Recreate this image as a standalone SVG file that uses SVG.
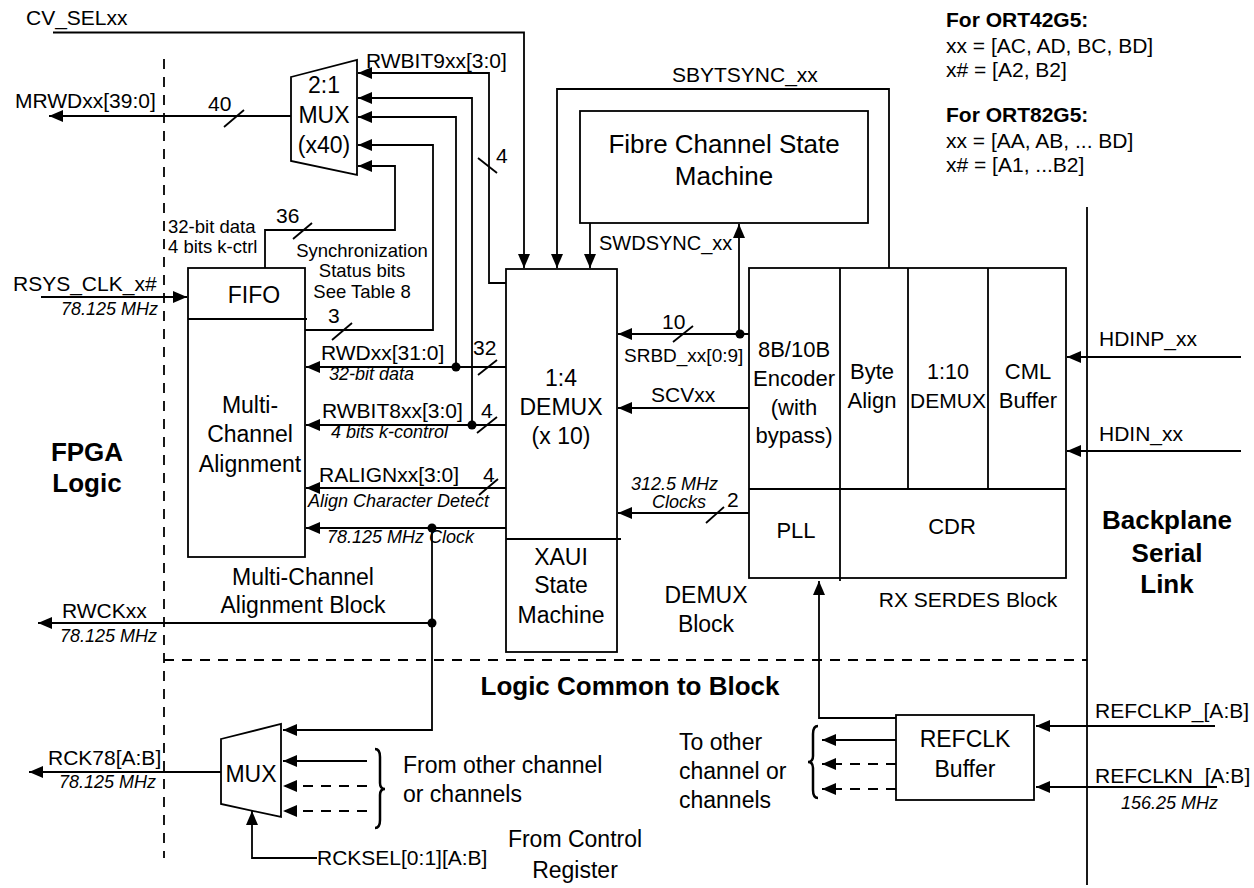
<svg xmlns="http://www.w3.org/2000/svg" width="1254" height="888" viewBox="0 0 1254 888">
<defs>
<style>
.ln{fill:none;stroke:#000;stroke-width:1.8}
.ar{marker-end:url(#ah)}
.box{fill:#fff;stroke:#000;stroke-width:1.8}
.dash{stroke-dasharray:10 8}
.t{font-family:"Liberation Sans",Arial,Helvetica,sans-serif;fill:#000;font-size:21px}
.i{font-style:italic;font-size:18px}
.sm{font-size:18.5px}
.m{font-size:23px}
.b{font-weight:bold;font-size:26px}
.bh{font-weight:bold}
.c{text-anchor:middle}
.e{text-anchor:end}
.dot{fill:#000}
</style>
<marker id="ah" markerUnits="userSpaceOnUse" markerWidth="14" markerHeight="12" viewBox="0 0 14 12" refX="14" refY="6" orient="auto">
<path d="M0,0 L14,6 L0,12 z" fill="#000" stroke="none"/>
</marker>
</defs>
<rect width="1254" height="888" fill="#fff"/>

<g id="boundaries">
<path class="ln dash" d="M164,59 V858"/>
<path class="ln dash" d="M164,660 H1087"/>
<path class="ln" d="M1087,207 V885"/>
</g>

<g id="connectors">
<path class="ln ar" d="M53,32.5 H524 V268"/>
<path class="ln ar" d="M889,268 V89 H557 V268"/>
<path class="ln ar" d="M590,223 V268"/>
<path class="ln ar" d="M739,334 V224"/>
<path class="ln ar" d="M749,334 H618"/>
<path class="ln ar" d="M749,408 H618"/>
<path class="ln ar" d="M749,513 H618"/>
<path class="ln ar" d="M1241,357 H1067"/>
<path class="ln ar" d="M1241,451 H1067"/>
<path class="ln ar" d="M896,718 H819 V581"/>
<path class="ln ar" d="M1215,726 H1036"/>
<path class="ln ar" d="M1217,787 H1036"/>
<path class="ln ar" d="M896,740 H822"/>
<path class="ln ar dash" d="M896,764 H822"/>
<path class="ln ar dash" d="M896,789 H822"/>
<path class="ln ar" d="M506,283 H489 V73 H358"/>
<path class="ln ar" d="M472,425 V98 H358"/>
<path class="ln ar" d="M456,367 V117 H358"/>
<path class="ln ar" d="M303,330 H433 V145 H358"/>
<path class="ln ar" d="M265,268 V230 H395 V166 H358"/>
<path class="ln ar" d="M506,367 H306"/>
<path class="ln ar" d="M506,425 H306"/>
<path class="ln ar" d="M506,488 H306"/>
<path class="ln ar" d="M506,528 H306"/>
<path class="ln ar" d="M432,528 V730 H283"/>
<path class="ln ar" d="M432,623 H38"/>
<path class="ln ar" d="M41,297 H187"/>
<path class="ln ar" d="M291,116 H49"/>
<path class="ln ar" d="M367,761 H283"/>
<path class="ln ar dash" d="M367,786 H283"/>
<path class="ln ar dash" d="M367,811 H283"/>
<path class="ln ar" d="M221,772 H29"/>
<path class="ln ar" d="M317,858 H252 V811"/>
<circle class="dot" cx="740" cy="334" r="4.5"/>
<circle class="dot" cx="456" cy="367" r="4.5"/>
<circle class="dot" cx="472" cy="425" r="4.5"/>
<circle class="dot" cx="432" cy="528" r="4.5"/>
<circle class="dot" cx="432" cy="623" r="4.5"/>
<g class="ln">
<path d="M224,127 L244,110"/>
<path d="M478,158 L497,173"/>
<path d="M293,239 L312,223"/>
<path d="M332,340 L352,323"/>
<path d="M478,375 L497,360"/>
<path d="M477,433 L497,417"/>
<path d="M479,495 L498,479"/>
<path d="M673,342 L693,326"/>
<path d="M706,523 L724,507"/>
</g>
<path class="ln" style="stroke-width:2.5" d="M375,749 Q380,749 380,757 L380,783 Q380,789 385,789 Q380,789 380,795 L380,820 Q380,828 375,828"/>
<path class="ln" style="stroke-width:2.5" d="M818,726 Q813,726 813,734 L813,756 Q813,762 808,762 Q813,762 813,768 L813,790 Q813,798 818,798"/>
<text class="t" x="26" y="25">CV_SELxx</text>
<text class="t" x="15" y="108">MRWDxx[39:0]</text>
<text class="t" x="208" y="111">40</text>
<text class="t" x="366" y="68">RWBIT9xx[3:0]</text>
<text class="t" x="496" y="163">4</text>
<text class="t" x="672" y="82">SBYTSYNC_xx</text>
<text class="t" x="599" y="250" style="font-size:20px">SWDSYNC_xx</text>
<text class="t" x="276" y="223">36</text>
<text class="t sm" x="168" y="233">32-bit data</text>
<text class="t sm" x="168" y="253">4 bits k-ctrl</text>
<text class="t sm c" x="362" y="257">Synchronization</text>
<text class="t sm c" x="362" y="277">Status bits</text>
<text class="t sm c" x="362" y="298">See Table 8</text>
<text class="t" x="13" y="291">RSYS_CLK_x#</text>
<text class="t i e" x="158" y="315">78.125 MHz</text>
<text class="t" x="328" y="323">3</text>
<text class="t" x="321" y="360">RWDxx[31:0]</text>
<text class="t i" x="329" y="380">32-bit data</text>
<text class="t" x="473" y="355">32</text>
<text class="t" x="322" y="418">RWBIT8xx[3:0]</text>
<text class="t i" x="331" y="438">4 bits k-control</text>
<text class="t" x="481" y="418">4</text>
<text class="t" x="319" y="482">RALIGNxx[3:0]</text>
<text class="t i" x="308" y="507">Align Character Detect</text>
<text class="t" x="483" y="482">4</text>
<text class="t i" x="327" y="543">78.125 MHz Clock</text>
<text class="t" x="662" y="329">10</text>
<text class="t" x="624" y="362" style="font-size:19px">SRBD_xx[0:9]</text>
<text class="t" x="651" y="402">SCVxx</text>
<text class="t i" x="631" y="490">312.5 MHz</text>
<text class="t i" x="652" y="508">Clocks</text>
<text class="t" x="727" y="507">2</text>
<text class="t" x="1099" y="346">HDINP_xx</text>
<text class="t" x="1099" y="441">HDIN_xx</text>
<text class="t" x="62" y="618">RWCKxx</text>
<text class="t i e" x="157" y="642">78.125 MHz</text>
<text class="t" x="48" y="765">RCK78[A:B]</text>
<text class="t i e" x="156" y="788">78.125 MHz</text>
<text class="t" x="317" y="865">RCKSEL[0:1][A:B]</text>
<text class="t m" x="403" y="773">From other channel</text>
<text class="t m" x="403" y="802">or channels</text>
<text class="t m c" x="575" y="847">From Control</text>
<text class="t m c" x="575" y="878">Register</text>
<text class="t m" x="679" y="750">To other</text>
<text class="t m" x="679" y="779">channel or</text>
<text class="t m" x="679" y="808">channels</text>
<text class="t" x="1095" y="718">REFCLKP_[A:B]</text>
<text class="t" x="1095" y="783">REFCLKN_[A:B]</text>
<text class="t i" x="1121" y="809">156.25 MHz</text>
</g>

<g id="notes">
<text class="t bh" x="946" y="27">For ORT42G5:</text>
<text class="t" x="946" y="53">xx = [AC, AD, BC, BD]</text>
<text class="t" x="946" y="77">x# = [A2, B2]</text>
<text class="t bh" x="946" y="122">For ORT82G5:</text>
<text class="t" x="946" y="148">xx = [AA, AB, ... BD]</text>
<text class="t" x="946" y="172">x# = [A1, ...B2]</text>
</g>

<g id="region-labels">
<text class="t b c" x="87" y="461">FPGA</text>
<text class="t b c" x="87" y="492">Logic</text>
<text class="t b c" x="1167" y="529">Backplane</text>
<text class="t b c" x="1167" y="562">Serial</text>
<text class="t b c" x="1167" y="593">Link</text>
<text class="t b c" x="630" y="695">Logic Common to Block</text>
<text class="t m c" x="303" y="585">Multi-Channel</text>
<text class="t m c" x="303" y="613">Alignment Block</text>
<text class="t m c" x="706" y="603">DEMUX</text>
<text class="t m c" x="706" y="632">Block</text>
<text class="t c" x="968" y="607">RX SERDES Block</text>
</g>

<g id="mux21">
<path class="box" d="M291,77 L357,60 L357,175 L291,161 Z"/>
<text class="t m c" x="324" y="93">2:1</text>
<text class="t m c" x="324" y="123">MUX</text>
<text class="t m c" x="324" y="153">(x40)</text>
</g>

<g id="fibre-sm">
<rect class="box" x="580" y="111" width="288" height="112"/>
<text class="t c" x="724" y="153" style="font-size:26px">Fibre Channel State</text>
<text class="t c" x="724" y="185" style="font-size:26px">Machine</text>
</g>

<g id="mca">
<rect class="box" x="188" y="268" width="117" height="289"/>
<path class="ln" d="M188,319 H307"/>
<text class="t m c" x="254" y="303">FIFO</text>
<text class="t m c" x="250" y="413">Multi-</text>
<text class="t m c" x="250" y="442">Channel</text>
<text class="t m c" x="250" y="472">Alignment</text>
</g>

<g id="demux">
<rect class="box" x="506" y="269" width="111" height="383"/>
<path class="ln" d="M506,539 H621"/>
<text class="t m c" x="561" y="386">1:4</text>
<text class="t m c" x="561" y="415">DEMUX</text>
<text class="t m c" x="561" y="444">(x 10)</text>
<text class="t m c" x="561" y="565">XAUI</text>
<text class="t m c" x="561" y="593">State</text>
<text class="t m c" x="561" y="623">Machine</text>
</g>

<g id="serdes">
<rect class="box" x="749" y="268" width="317" height="310"/>
<path class="ln" d="M840,268 V581 M908,268 V489 M988,268 V489 M749,489 H1066"/>
<text class="t c" x="794" y="357" style="font-size:22px">8B/10B</text>
<text class="t c" x="794" y="386" style="font-size:22px">Encoder</text>
<text class="t c" x="794" y="415" style="font-size:22px">(with</text>
<text class="t c" x="794" y="443" style="font-size:22px">bypass)</text>
<text class="t c" x="872" y="379" style="font-size:22px">Byte</text>
<text class="t c" x="872" y="408" style="font-size:22px">Align</text>
<text class="t c" x="948" y="379" style="font-size:21.5px">1:10</text>
<text class="t c" x="948" y="408" style="font-size:21px">DEMUX</text>
<text class="t c" x="1028" y="379" style="font-size:22px">CML</text>
<text class="t c" x="1028" y="408" style="font-size:22px">Buffer</text>
<text class="t c" x="796" y="538" style="font-size:22px">PLL</text>
<text class="t c" x="952" y="534" style="font-size:22px">CDR</text>
</g>

<g id="refclk">
<rect class="box" x="896" y="715" width="138" height="85"/>
<text class="t m c" x="965" y="747">REFCLK</text>
<text class="t m c" x="965" y="777">Buffer</text>
</g>

<g id="mux-rck">
<path class="box" d="M221,739 L281,724 L281,817 L221,804 Z"/>
<text class="t m c" x="251" y="782">MUX</text>
</g>
</svg>
